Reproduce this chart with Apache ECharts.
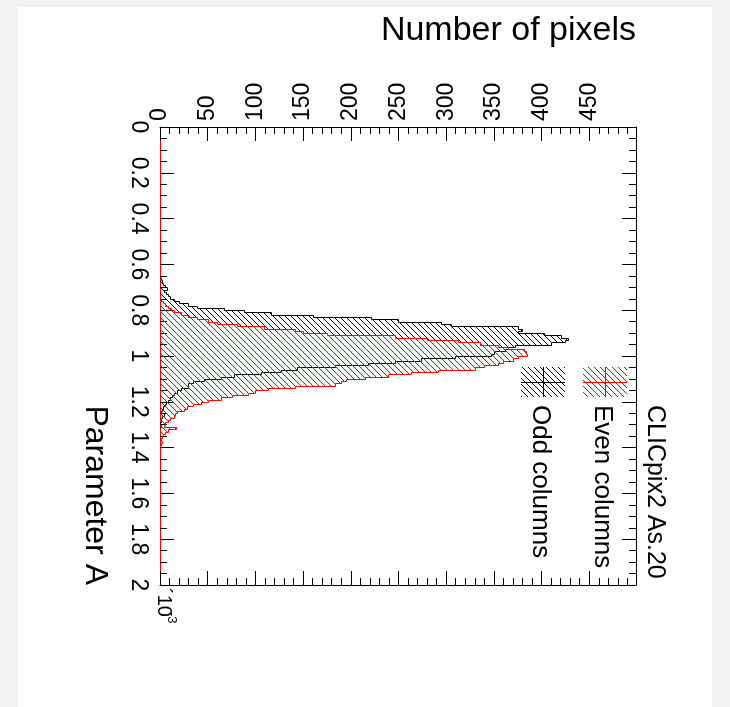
<!DOCTYPE html>
<html><head><meta charset="utf-8">
<script src="https://cdn.jsdelivr.net/npm/echarts@6/dist/echarts.min.js"></script>
<style>html,body{margin:0;padding:0;background:#f2f2f2;}#wrap{padding:7px 18px 0 18px;width:694px;height:700px;}#c{width:694px;height:700px;background:#fff;}</style>
</head><body><div id="wrap"><div id="c"></div></div>
<script>
// ---- data ----
const binWidth = 0.01;
const oddStart = 0.66;
const oddCounts = [1,2,3,5,7,4,6,8,10,15,20,29,39,67,88,116,160,221,250,295,305,375,380,375,403,420,428,425,410,372,365,362,350,347,309,274,246,218,183,144,127,106,78,64,46,35,29,29,22,18,15,13,10,8,6,5,3,2,1,4,2,1,1,0,1];
const evenStart = 0.75;
const evenCounts = [1,3,5,8,12,15,22,29,39,50,60,81,109,141,150,175,246,280,312,335,354,365,382,384,385,375,370,360,354,340,330,291,263,239,215,195,190,183,141,113,100,92,75,64,50,43,35,28,25,18,16,15,10,8,5,4,17,8,5,3,2,1,2,1];
const countMax = 499;
const paramMin = 0, paramMax = 2;
const legendNames = ['Even columns', 'Odd columns'];
const titleText = 'CLICpix2 As.20';

const FONT = 'Liberation Sans, Arial, sans-serif';
const OX = 18, OY = 7; // chart div offset within page
const RED = '#ff0000';
const BLACK = '#000000';

// pixel-exact diagonal hatch tile ("\" direction)
function hatch(rgb, s) {
  const c = document.createElement('canvas');
  c.width = s; c.height = s;
  const g = c.getContext('2d');
  const img = g.createImageData(s, s);
  for (let i = 0; i < s; i++) {
    const k = (i * s + i) * 4;
    img.data[k] = rgb[0]; img.data[k + 1] = rgb[1]; img.data[k + 2] = rgb[2]; img.data[k + 3] = 255;
  }
  g.putImageData(img, 0, 0);
  return {image: c, repeat: 'repeat'};
}
const blackHatch = hatch([0, 0, 0], 6);
const redHatch = hatch([255, 0, 0], 6);

function binsOf(start, counts) {
  return counts.map((v, i) => {
    const lo = start + i * binWidth;
    return [lo, lo + binWidth, v, i > 0 ? counts[i - 1] : 0, i === counts.length - 1 ? 1 : 0];
  });
}
const R = p => [Math.round(p[0]), Math.round(p[1])];
const H = p => [Math.round(p[0]) + 0.5, Math.round(p[1]) + 0.5];

function histSeries(name, start, counts, color, pattern, z) {
  return {
    type: 'custom', name: name,
    data: binsOf(start, counts),
    encode: {x: 2, y: [0, 1]},
    z: z,
    renderItem: function (params, api) {
      const lo = api.value(0), hi = api.value(1), v = api.value(2), prev = api.value(3), last = api.value(4);
      const a = api.coord([0, lo]), b = api.coord([v, lo]), c = api.coord([v, hi]), d = api.coord([0, hi]);
      const p0 = api.coord([prev, lo]);
      const pts = [H(p0), H(b), H(c)];
      if (last) pts.push(H(d));
      const ra = R(a), rc = R(c);
      return {
        type: 'group',
        children: [
          {type: 'rect', shape: {x: ra[0], y: ra[1], width: rc[0] - ra[0], height: rc[1] - ra[1]}, style: {fill: pattern, stroke: null}},
          {type: 'polyline', shape: {points: pts}, style: {stroke: color, lineWidth: 1, fill: null}}
        ]
      };
    }
  };
}

const tickStyle = {color: '#000', width: 1};
function countAxis(pos, labels) {
  return {
    type: 'value', position: pos, min: 0, max: countMax, interval: 50,
    axisLine: {show: true, onZero: false, lineStyle: tickStyle},
    axisTick: {show: true, inside: true, length: 14, lineStyle: tickStyle},
    minorTick: {show: true, splitNumber: 5, length: 7, lineStyle: tickStyle},
    splitLine: {show: false},
    axisLabel: {show: labels, rotate: -90, margin: 6, fontSize: 23, color: '#000', fontFamily: FONT, showMaxLabel: false}
  };
}
function paramAxis(pos, labels) {
  return {
    type: 'value', position: pos, inverse: true, min: paramMin, max: paramMax, interval: 0.2,
    axisLine: {show: true, onZero: false, lineStyle: {color: pos === 'left' ? RED : '#000', width: 1}},
    axisTick: {show: true, inside: true, length: 14, lineStyle: tickStyle},
    minorTick: {show: true, splitNumber: 4, length: 7, lineStyle: tickStyle},
    splitLine: {show: false},
    axisLabel: {show: labels, rotate: -90, margin: 10, fontSize: 23, color: '#000', fontFamily: FONT}
  };
}

function legendBox(x, y, w, h, color, pattern) {
  return [
    {type: 'rect', shape: {x: x, y: y, width: w, height: h}, style: {fill: pattern, stroke: null}, z: 10},
    {type: 'line', shape: {x1: x + w / 2 + 0.5, y1: y, x2: x + w / 2 + 0.5, y2: y + h}, style: {stroke: color, lineWidth: 1}, z: 10},
    {type: 'line', shape: {x1: x, y1: y + h / 2 + 0.5, x2: x + w, y2: y + h / 2 + 0.5}, style: {stroke: color, lineWidth: 1}, z: 10}
  ];
}

const chart = echarts.init(document.getElementById('c'), null, {renderer: 'canvas'});
chart.setOption({
  animation: false,
  backgroundColor: '#fff',
  grid: {left: 160 - OX, top: 127 - OY, right: 94 - 18, bottom: 122},
  xAxis: [countAxis('top', true), countAxis('bottom', false)],
  yAxis: [paramAxis('left', true), paramAxis('right', false)],
  series: [
    histSeries(legendNames[1], oddStart, oddCounts, BLACK, blackHatch, 2),
    histSeries(legendNames[0], evenStart, evenCounts, RED, redHatch, 3)
  ],
  graphic: [
    {type: 'text', right: 94 - 18, top: 14 - OY, style: {text: 'Number of pixels', fontSize: 34, fill: '#000', fontFamily: FONT}},
    {type: 'text', x: 95 - OX, y: 585 - OY, rotation: -Math.PI / 2, style: {text: 'Parameter A', fontSize: 32, fill: '#000', fontFamily: FONT, align: 'right', verticalAlign: 'middle'}},
    {type: 'text', x: 655 - OX, y: 405 - OY, rotation: -Math.PI / 2, style: {text: titleText, fontSize: 25, fill: '#000', fontFamily: FONT, align: 'left', verticalAlign: 'middle'}},
    ...legendBox(583 - OX, 367 - OY, 44, 30, RED, redHatch),
    ...legendBox(521 - OX, 367 - OY, 44, 30, BLACK, blackHatch),
    {type: 'text', x: 602 - OX, y: 405 - OY, rotation: -Math.PI / 2, style: {text: legendNames[0], fontSize: 26, fill: '#000', fontFamily: FONT, align: 'left', verticalAlign: 'middle'}},
    {type: 'text', x: 540 - OX, y: 405 - OY, rotation: -Math.PI / 2, style: {text: legendNames[1], fontSize: 26, fill: '#000', fontFamily: FONT, align: 'left', verticalAlign: 'middle'}},
    {type: 'text', x: 164 - OX, y: 588 - OY, rotation: -Math.PI / 2, style: {text: '\u00b410', fontSize: 20, fill: '#000', fontFamily: FONT, align: 'left', verticalAlign: 'middle'}},
    {type: 'text', x: 172 - OX, y: 612 - OY, rotation: -Math.PI / 2, style: {text: '-3', fontSize: 13, fill: '#000', fontFamily: FONT, align: 'left', verticalAlign: 'middle'}}
  ]
});
</script>
</body></html>
